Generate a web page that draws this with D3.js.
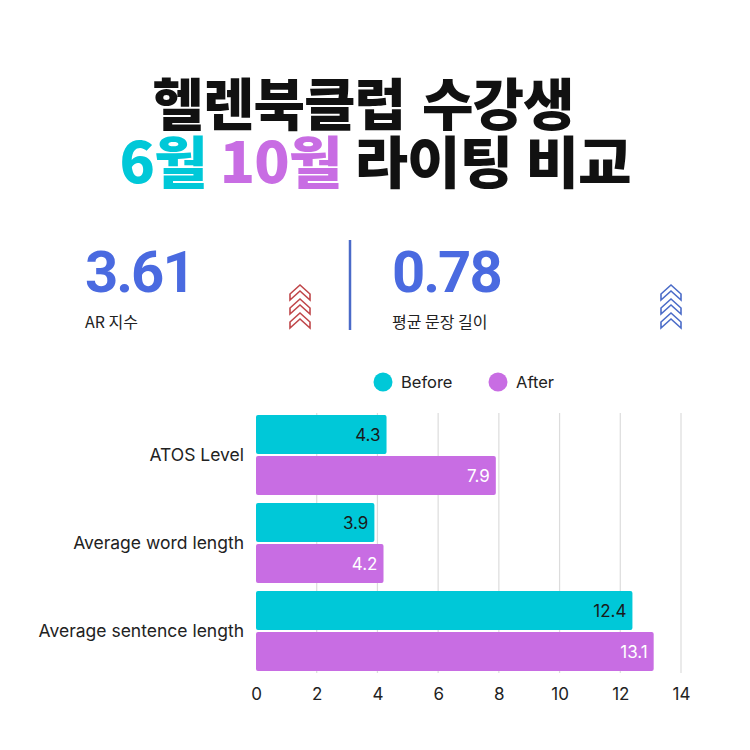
<!DOCTYPE html>
<html>
<head>
<meta charset="utf-8">
<script src="https://cdn.jsdelivr.net/npm/d3@7"></script>
<style>
  html, body { margin: 0; padding: 0; background: #fff; }
  svg { display: block; }
</style>
</head>
<body>
<div id="paper"></div>
<script>
var categories = ["ATOS Level", "Average word length", "Average sentence length"];
var series = ["Before", "After"];
var before = [4.3, 3.9, 12.4];
var after = [7.9, 4.2, 13.1];
var xTicks = [0, 2, 4, 6, 8, 10, 12, 14];
var stats = [
  {value: "3.61", label: "AR 지수"},
  {value: "0.78", label: "평균 문장 길이"}
];

var width = 750,
    height = 750;

var cyan = "#00c8d8",
    purple = "#c86de3",
    blue = "#4a6ae0";

var svg = d3.select("#paper").append("svg")
    .attr("width", width)
    .attr("height", height);

// title
var title = svg.append("g")
    .attr("font-family", "'Noto Sans CJK KR', sans-serif")
    .attr("font-weight", 900)
    .attr("font-size", 56)
    .attr("letter-spacing", -1)
    .attr("text-anchor", "middle");

title.append("text")
    .attr("x", 363).attr("y", 125)
    .attr("word-spacing", 5)
    .attr("fill", "#111")
    .text("헬렌북클럽 수강생");

// second line is a bit wider in the original, stretch it horizontally
var t2 = title.append("text")
    .attr("transform", "translate(375,183) scale(1.04,1)")
    .attr("word-spacing", 1)
    .attr("fill", "#111");
t2.append("tspan").attr("fill", cyan).text("6월 ");
t2.append("tspan").attr("fill", purple).text("10월 ");
t2.append("tspan").text("라이팅 비교");

// stats row
var statX = [85, 392];
stats.forEach(function(s, i){
  svg.append("text")
    .attr("x", statX[i]).attr("y", 292)
    .attr("font-family", "Roboto, sans-serif")
    .attr("font-weight", 700)
    .attr("font-size", 58)
    .attr("letter-spacing", -2)
    .attr("fill", blue)
    .text(s.value);
  svg.append("text")
    .attr("x", statX[i]).attr("y", 328)
    .attr("font-family", "'Noto Sans CJK KR', sans-serif")
    .attr("font-size", 16)
    .attr("fill", "#222")
    .text(s.label);
});

svg.append("line")
    .attr("x1", 350).attr("x2", 350)
    .attr("y1", 240).attr("y2", 330)
    .attr("stroke", "#4a6ac8")
    .attr("stroke-width", 2.5);

// chevrons
var chevron = function(cx, color){
  var g = svg.append("g").attr("transform", "translate(" + cx + ",285)");
  [0, 14, 28].forEach(function(dy){
    g.append("path")
      .attr("d", "M-10," + (dy + 9) + " L0," + (dy) + " L10," + (dy + 9) +
                 " L10," + (dy + 15) + " L0," + (dy + 6) + " L-10," + (dy + 15) + " Z")
      .attr("fill", "none")
      .attr("stroke", color)
      .attr("stroke-width", 1.6)
      .attr("stroke-linejoin", "miter");
  });
};
chevron(300, "#c0474a");
chevron(671, "#4b6cc8");

// legend
var legendX = [383, 498];
series.forEach(function(s, i){
  svg.append("circle")
    .attr("cx", legendX[i]).attr("cy", 382)
    .attr("r", 9.5)
    .attr("fill", i === 0 ? cyan : purple);
  svg.append("text")
    .attr("x", legendX[i] + 18).attr("y", 388)
    .attr("font-family", "Inter, sans-serif")
    .attr("font-size", 16.5)
    .attr("fill", "#222")
    .text(s);
});

// chart
var x = d3.scaleLinear().domain([0, 14]).range([256, 681]);
var y = d3.scaleBand().domain(categories).range([411, 675])
    .paddingInner(0.09).paddingOuter(0.045);
var ySub = d3.scaleBand().domain(series).range([0, y.bandwidth()]).paddingInner(0.05);

svg.append("g").selectAll("line")
    .data(xTicks.slice(1))
    .enter().append("line")
    .attr("x1", function(d){ return x(d); })
    .attr("x2", function(d){ return x(d); })
    .attr("y1", 413).attr("y2", 673)
    .attr("stroke", "#dcdcdc")
    .attr("stroke-width", 1.2);

var rows = categories.map(function(c, i){
  return [
    {cat: c, s: "Before", v: before[i]},
    {cat: c, s: "After", v: after[i]}
  ];
});
var flat = [].concat.apply([], rows);

svg.append("g").selectAll("rect")
    .data(flat)
    .enter().append("rect")
    .attr("x", x(0))
    .attr("y", function(d){ return y(d.cat) + ySub(d.s); })
    .attr("width", function(d){ return x(d.v) - x(0); })
    .attr("height", ySub.bandwidth())
    .attr("rx", 2)
    .attr("fill", function(d){ return d.s === "Before" ? cyan : purple; });

svg.append("g").selectAll("text")
    .data(flat)
    .enter().append("text")
    .attr("x", function(d){ return x(d.v) - 6; })
    .attr("y", function(d){ return y(d.cat) + ySub(d.s) + ySub.bandwidth() / 2; })
    .attr("dy", "0.36em")
    .attr("text-anchor", "end")
    .attr("font-family", "Inter, sans-serif")
    .attr("font-size", 17)
    .attr("fill", function(d){ return d.s === "Before" ? "#1a1a1a" : "#fff"; })
    .text(function(d){ return d.v; });

// category labels
svg.append("g").selectAll("text")
    .data(categories)
    .enter().append("text")
    .attr("x", 244)
    .attr("y", function(d){ return y(d) + y.bandwidth() / 2; })
    .attr("dy", "0.36em")
    .attr("text-anchor", "end")
    .attr("font-family", "Inter, sans-serif")
    .attr("font-size", 17.5)
    .attr("fill", "#222")
    .text(function(d){ return d; });

// x axis
var xAxis = svg.append("g")
    .attr("transform", "translate(0,680)")
    .call(d3.axisBottom(x).tickValues(xTicks).tickSize(0).tickPadding(8));
xAxis.select(".domain").remove();
xAxis.selectAll("text")
    .attr("font-family", "Inter, sans-serif")
    .attr("font-size", 17)
    .attr("fill", "#222");
</script>
</body>
</html>
